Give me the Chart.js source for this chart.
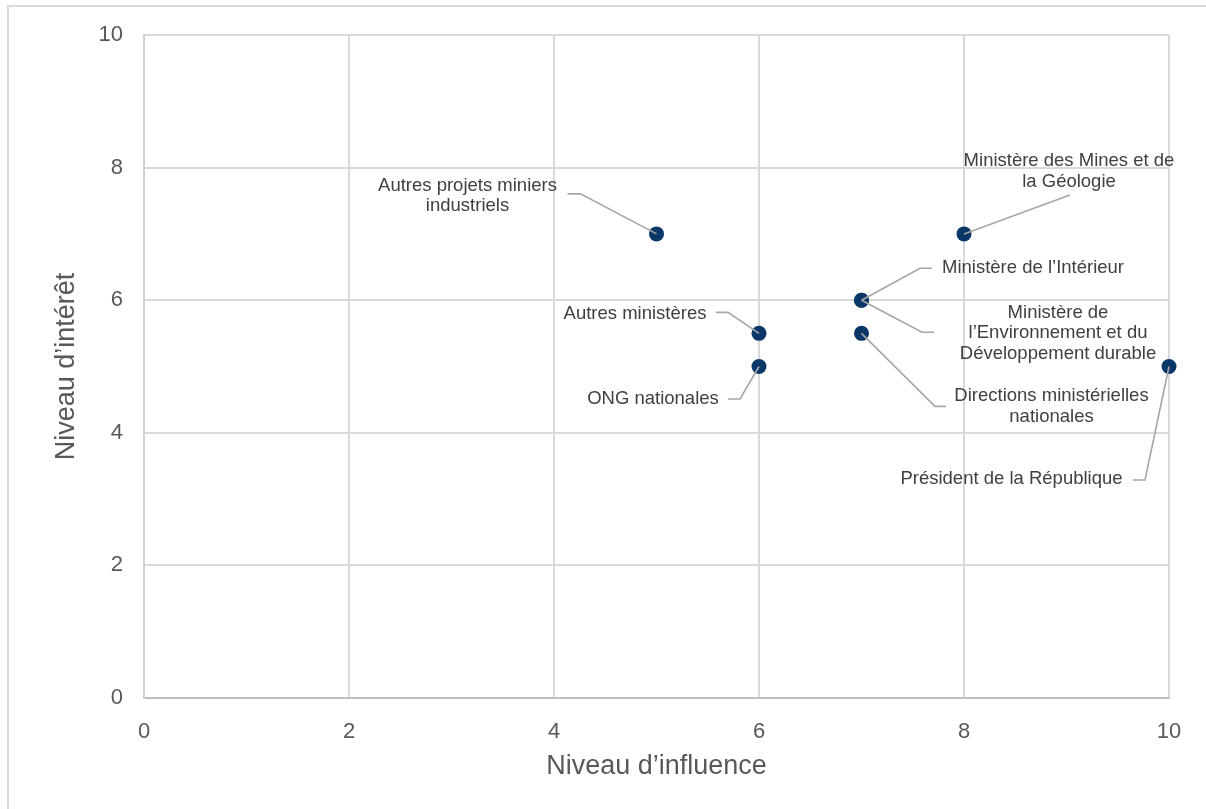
<!DOCTYPE html>
<html>
<head>
<meta charset="utf-8">
<script src="https://cdn.jsdelivr.net/npm/chart.js@4.4.1/dist/chart.umd.min.js"></script>
<style>
  html, body { margin: 0; padding: 0; background: #fff; overflow: hidden; }
  #wrap { position: relative; width: 1206px; height: 809px; overflow: hidden; }
  #frame { position: absolute; left: 7px; top: 5px; width: 1400px; height: 1000px; border: 2px solid #d9d9d9; box-sizing: border-box; }
  #stakeChart { position: absolute; left: 0; top: 0; }
</style>
</head>
<body>
<div id="wrap">
  <div id="frame"></div>
  <canvas id="stakeChart" width="1206" height="809"></canvas>
</div>
<script>
const stakeholders = [
    'Autres projets miniers industriels',
    'Autres ministères',
    'ONG nationales',
    'Ministère des Mines et de la Géologie',
    'Ministère de l’Intérieur',
    'Ministère de l’Environnement et du Développement durable',
    'Directions ministérielles nationales',
    'Président de la République'
];
const influence = [5, 6, 6, 8, 7, 7, 7, 10];
const interest = [7, 5.5, 5, 7, 6, 6, 5.5, 5];
const axisTicks = [0, 2, 4, 6, 8, 10];

// how each label is broken into lines
const labelLines = [
    ['Autres projets miniers', 'industriels'],
    ['Autres ministères'],
    ['ONG nationales'],
    ['Ministère des Mines et de', 'la Géologie'],
    ['Ministère de l’Intérieur'],
    ['Ministère de', 'l’Environnement et du', 'Développement durable'],
    ['Directions ministérielles', 'nationales'],
    ['Président de la République']
];

// label placement, pixel offsets from the point (text centre, leader elbow, leader end)
const labelLayout = [
    { text: [-189, -38], elbow: [-76, -40], end: [-89, -40] },
    { text: [-124, -19], elbow: [-31, -21], end: [-43, -21] },
    { text: [-106, 32.5], elbow: [-19, 32.5], end: [-31, 32.5] },
    { text: [105, -62.5], elbow: null, end: [106, -39] },
    { text: [171.5, -32], elbow: [58.5, -32], end: [70.5, -32] },
    { text: [196.5, 33], elbow: [60.5, 32], end: [72.5, 32] },
    { text: [190, 73], elbow: [73.5, 73], end: [84.5, 73] },
    { text: [-157.5, 112.5], elbow: [-24, 113.5], end: [-36, 113.5] }
];

const FONT = '"Liberation Sans", Arial, sans-serif';

const leaderLabels = {
    id: 'leaderLabels',
    afterDatasetsDraw(chart) {
        const ctx = chart.ctx;
        const meta = chart.getDatasetMeta(0);
        ctx.save();
        meta.data.forEach((pt, i) => {
            const lay = labelLayout[i];
            ctx.strokeStyle = '#a6a6a6';
            ctx.lineWidth = 1.6;
            ctx.beginPath();
            ctx.moveTo(pt.x, pt.y);
            if (lay.elbow) ctx.lineTo(pt.x + lay.elbow[0], pt.y + lay.elbow[1]);
            ctx.lineTo(pt.x + lay.end[0], pt.y + lay.end[1]);
            ctx.stroke();

            ctx.fillStyle = '#404040';
            ctx.font = '18.5px ' + FONT;
            ctx.textAlign = 'center';
            ctx.textBaseline = 'middle';
            const lines = labelLines[i];
            const lh = 20.7;
            const y0 = pt.y + lay.text[1] - (lines.length - 1) * lh / 2;
            lines.forEach((ln, k) => ctx.fillText(ln, pt.x + lay.text[0], y0 + k * lh));
        });
        ctx.restore();
    }
};

const points = influence.map((x, i) => ({ x: x, y: interest[i] }));

new Chart(document.getElementById('stakeChart').getContext('2d'), {
    type: 'scatter',
    data: {
        labels: stakeholders,
        datasets: [{
            data: points,
            backgroundColor: '#0a3768',
            borderWidth: 0,
            pointRadius: 7.5,
            pointHoverRadius: 7.5,
            clip: false
        }]
    },
    options: {
        responsive: false,
        animation: false,
        devicePixelRatio: 1,
        layout: { padding: { left: 0, top: 35, right: 37, bottom: 0 } },
        plugins: { legend: { display: false }, tooltip: { enabled: false } },
        scales: {
            x: {
                type: 'linear', min: 0, max: 10,
                afterBuildTicks: s => { s.ticks = axisTicks.map(v => ({ value: v })); },
                afterFit: s => { s.height = 111; },
                ticks: { color: '#595959', font: { family: FONT, size: 22 }, padding: 21 },
                grid: { color: '#d9d9d9', lineWidth: 2, drawTicks: false },
                border: { color: '#bfbfbf', width: 2 },
                title: { display: true, text: 'Niveau d’influence', color: '#595959',
                         font: { family: FONT, size: 27 }, padding: { top: 0, bottom: 26 } }
            },
            y: {
                type: 'linear', min: 0, max: 10,
                afterBuildTicks: s => { s.ticks = axisTicks.map(v => ({ value: v })); },
                afterFit: s => { s.width = 144; },
                ticks: { color: '#595959', font: { family: FONT, size: 22 }, padding: 21 },
                grid: { color: '#d9d9d9', lineWidth: 2, drawTicks: false },
                border: { color: '#d0d0d0', width: 2 },
                title: { display: true, text: 'Niveau d’intérêt', color: '#595959',
                         font: { family: FONT, size: 27 }, padding: { top: 50, bottom: 0 } }
            }
        }
    },
    plugins: [leaderLabels]
});
</script>
</body>
</html>
